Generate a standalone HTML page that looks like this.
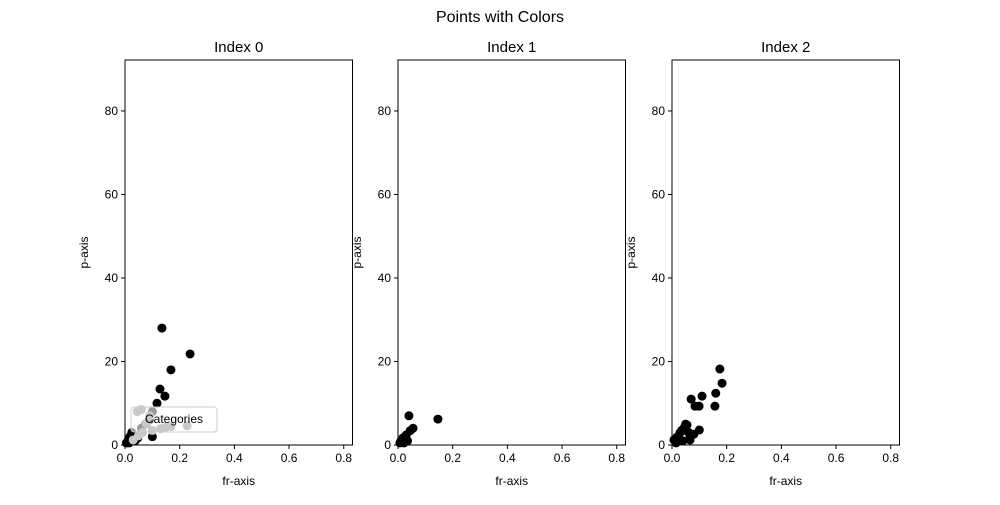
<!DOCTYPE html>
<html><head><meta charset="utf-8"><style>
body{margin:0;background:#fff;}
svg{font-family:"Liberation Sans",sans-serif;}
</style></head><body>
<svg id="c" width="1000" height="500" xmlns="http://www.w3.org/2000/svg">
<text x="500" y="22" text-anchor="middle" font-size="16">Points with Colors</text>
</svg>
<script>
const titles=["Index 0","Index 1","Index 2"];
const xTicks=[0,0.2,0.4,0.6,0.8];
const yTicks=[0,20,40,60,80];
const blackX0=[0.135,0.238,0.168,0.128,0.146,0.117,0.1,0.09,0.1,0.012,0.018,0.03,0.037,0.047,0.005,0.015,0.025,0.06,0.075];
const blackY0=[28,21.8,18,13.4,11.7,10,8,6,2,1.2,2,2.6,1,1.7,0.5,0.5,3,4,5];
const grayX0=[0.045,0.06,0.078,0.1,0.13,0.15,0.168,0.227,0.064,0.049,0.03,0.09];
const grayY0=[8,8.5,5,3.5,3.9,4.3,4.4,4.6,3,2.2,1.2,7];
const blackX1=[0.04,0.146,0.055,0.044,0.03,0.018,0.011,0.022,0.007,0.035];
const blackY1=[7,6.2,4,3.4,2.4,1.7,1,0.5,0.5,1];
const blackX2=[0.175,0.183,0.16,0.07,0.11,0.084,0.099,0.157,0.1,0.08,0.066,0.059,0.055,0.044,0.029,0.018,0.007,0.015,0.04,0.066,0.05,0.035];
const blackY2=[18.2,14.8,12.4,11,11.7,9.3,9.3,9.3,3.6,2.6,1.9,3.1,4.8,4.1,2.9,1.9,1.2,0.5,1,1.2,5,3.5];
const series=[[blackX0,blackY0,grayX0,grayY0],[blackX1,blackY1],[blackX2,blackY2]];
const NS="http://www.w3.org/2000/svg";
const svg=document.getElementById('c');
const lefts=[125,398,672],W=227.5,T=60,B=445,xmax=0.832,ymax=92.2;
function mk(t,a,p){const e=document.createElementNS(NS,t);for(const k in a)e.setAttribute(k,a[k]);(p||svg).appendChild(e);return e;}
lefts.forEach((L,i)=>{
 const g=mk('g',{});
 
 
 const X=v=>L+v/xmax*W, Y=v=>B-v/ymax*(B-T);
 const s=series[i];
 const dot=(x,y,c,n)=>{const e=mk('circle',{cx:X(x),cy:Y(y),r:4.5,fill:c},g);};
 s[0].forEach((x,j)=>dot(x,s[1][j],'#000','point-black'));
 if(i===0){
  const lg=mk('g',{},g);
  mk('rect',{x:131,y:407,width:86,height:25,rx:3,fill:'#fff','fill-opacity':0.6,stroke:'#ccc'},lg);
 }
 if(s[2]) s[2].forEach((x,j)=>dot(x,s[3][j],'#c8c8c8','point-gray'));
 if(i===0){
  const lt=mk('text',{x:174,y:423,'font-size':12,'text-anchor':'middle'},g);lt.textContent='Categories';
  
 }
 const fr=mk('rect',{x:L,y:T,width:W,height:B-T,fill:'none',stroke:'#000','stroke-width':1},g);
 
 xTicks.forEach(t=>{mk('line',{x1:X(t),x2:X(t),y1:B,y2:B+4,stroke:'#000'},g);
  const tx=mk('text',{x:X(t),y:B+17,'font-size':12,'text-anchor':'middle'},g);tx.textContent=t.toFixed(1);
  });
 yTicks.forEach(t=>{mk('line',{x1:L-4,x2:L,y1:Y(t),y2:Y(t),stroke:'#000'},g);
  const tx=mk('text',{x:L-7,y:Y(t)+4,'font-size':12,'text-anchor':'end'},g);tx.textContent=t;
  });
 const ti=mk('text',{x:L+W/2,y:52,'font-size':15,'text-anchor':'middle'},g);ti.textContent=titles[i];
 
 const xl=mk('text',{x:L+W/2,y:485,'font-size':12,'text-anchor':'middle'},g);xl.textContent='fr-axis';
 
 const yl=mk('text',{x:0,y:0,'font-size':12,'text-anchor':'middle',transform:`translate(${L-37},${(T+B)/2}) rotate(-90)`},g);yl.textContent='p-axis';
 
});
</script>
</body></html>
